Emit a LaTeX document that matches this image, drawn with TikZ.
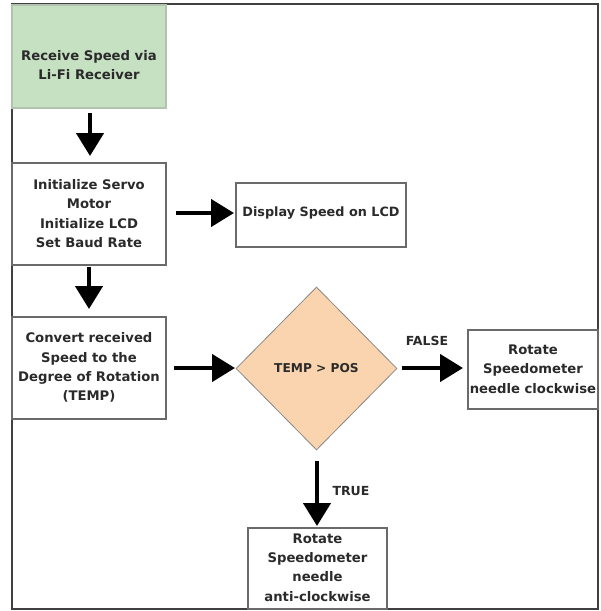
\documentclass[tikz,border=0pt]{standalone}
\usepackage{fontspec}
\setmainfont{DejaVu Sans}
\usetikzlibrary{arrows.meta,shapes.geometric}
\definecolor{txt}{HTML}{2A2A2A}
\definecolor{boxline}{HTML}{6A6A6A}
\definecolor{greenfill}{HTML}{C6E0C2}
\definecolor{peach}{HTML}{F9D4AE}
\tikzset{
  boxtext/.style={text=txt,font=\fontsize{13.2}{19.3}\selectfont\bfseries,align=center,inner sep=0pt},
  procbox/.style={draw=boxline,line width=1.2pt,rectangle,inner sep=0pt},
  bigarrow/.style={draw=black,line width=4.5pt,-{Triangle[length=23pt,width=27pt]}},
  lbl/.style={text=txt,font=\fontsize{12.5}{15}\selectfont\bfseries,inner sep=0pt}
}
\begin{document}
\begin{tikzpicture}[x=1pt,y=-1pt]
\useasboundingbox (0,0) rectangle (601,611);
% outer frame
\draw[draw=black!75,line width=2pt] (12,4) rectangle (598,609);
% green box
\node[procbox,draw=greenfill!85!black!90,fill=greenfill,minimum width=154pt,minimum height=103pt] (recv) at (89,56.5) {};
\node[boxtext] (recvtxt) at (89,65) {Receive Speed via\\Li-Fi Receiver};
% init box
\node[procbox,minimum width=154pt,minimum height=102pt] (init) at (89,214) {};
\node[boxtext] (inittxt) at (89,213.5) {Initialize Servo\\Motor\\Initialize LCD\\Set Baud Rate};
% display box
\node[procbox,minimum width=170pt,minimum height=64pt] (disp) at (321,215) {};
\node[boxtext,font=\fontsize{12.8}{19}\selectfont\bfseries] (disptxt) at (321,213) {Display Speed on LCD};
% convert box
\node[procbox,minimum width=154pt,minimum height=102pt] (conv) at (89,368) {};
\node[boxtext] (convtxt) at (89,367.5) {Convert received\\Speed to the\\Degree of Rotation\\(TEMP)};
% diamond
\node[diamond,draw=boxline!80,line width=0.8pt,fill=peach,minimum width=161pt,minimum height=163pt,inner sep=0pt] (dec) at (316.5,368.5) {};
\node[boxtext,font=\fontsize{12.2}{15}\selectfont\bfseries] (dectxt) at (316.5,368.5) {TEMP > POS};
% right box
\node[procbox,minimum width=130pt,minimum height=79pt] (cw) at (533,369.5) {};
\node[boxtext] (cwtxt) at (533,369) {Rotate\\Speedometer\\needle clockwise};
% bottom box
\node[procbox,minimum width=139pt,minimum height=81pt] (acw) at (317.5,568.5) {};
\node[boxtext] (acwtxt) at (317.5,567.5) {Rotate\\Speedometer\\needle\\anti-clockwise};
% arrow anchor coordinates
\coordinate (a1s) at (90,113); \coordinate (a1e) at (90,156);
\coordinate (a2s) at (176,213); \coordinate (a2e) at (234,213);
\coordinate (a3s) at (89,267); \coordinate (a3e) at (89,309);
\coordinate (a4s) at (174,368); \coordinate (a4e) at (235,368);
\coordinate (a5s) at (402,368); \coordinate (a5e) at (463,368);
\coordinate (a6s) at (317,461); \coordinate (a6e) at (317,526);
\draw[bigarrow] (a1s) -- (a1e);
\draw[bigarrow] (a2s) -- (a2e);
\draw[bigarrow] (a3s) -- (a3e);
\draw[bigarrow] (a4s) -- (a4e);
\draw[bigarrow] (a5s) -- (a5e);
\draw[bigarrow] (a6s) -- (a6e);
\node[lbl] (flbl) at (427,341) {FALSE};
\node[lbl] (tlbl) at (351,491) {TRUE};
\end{tikzpicture}
\end{document}
